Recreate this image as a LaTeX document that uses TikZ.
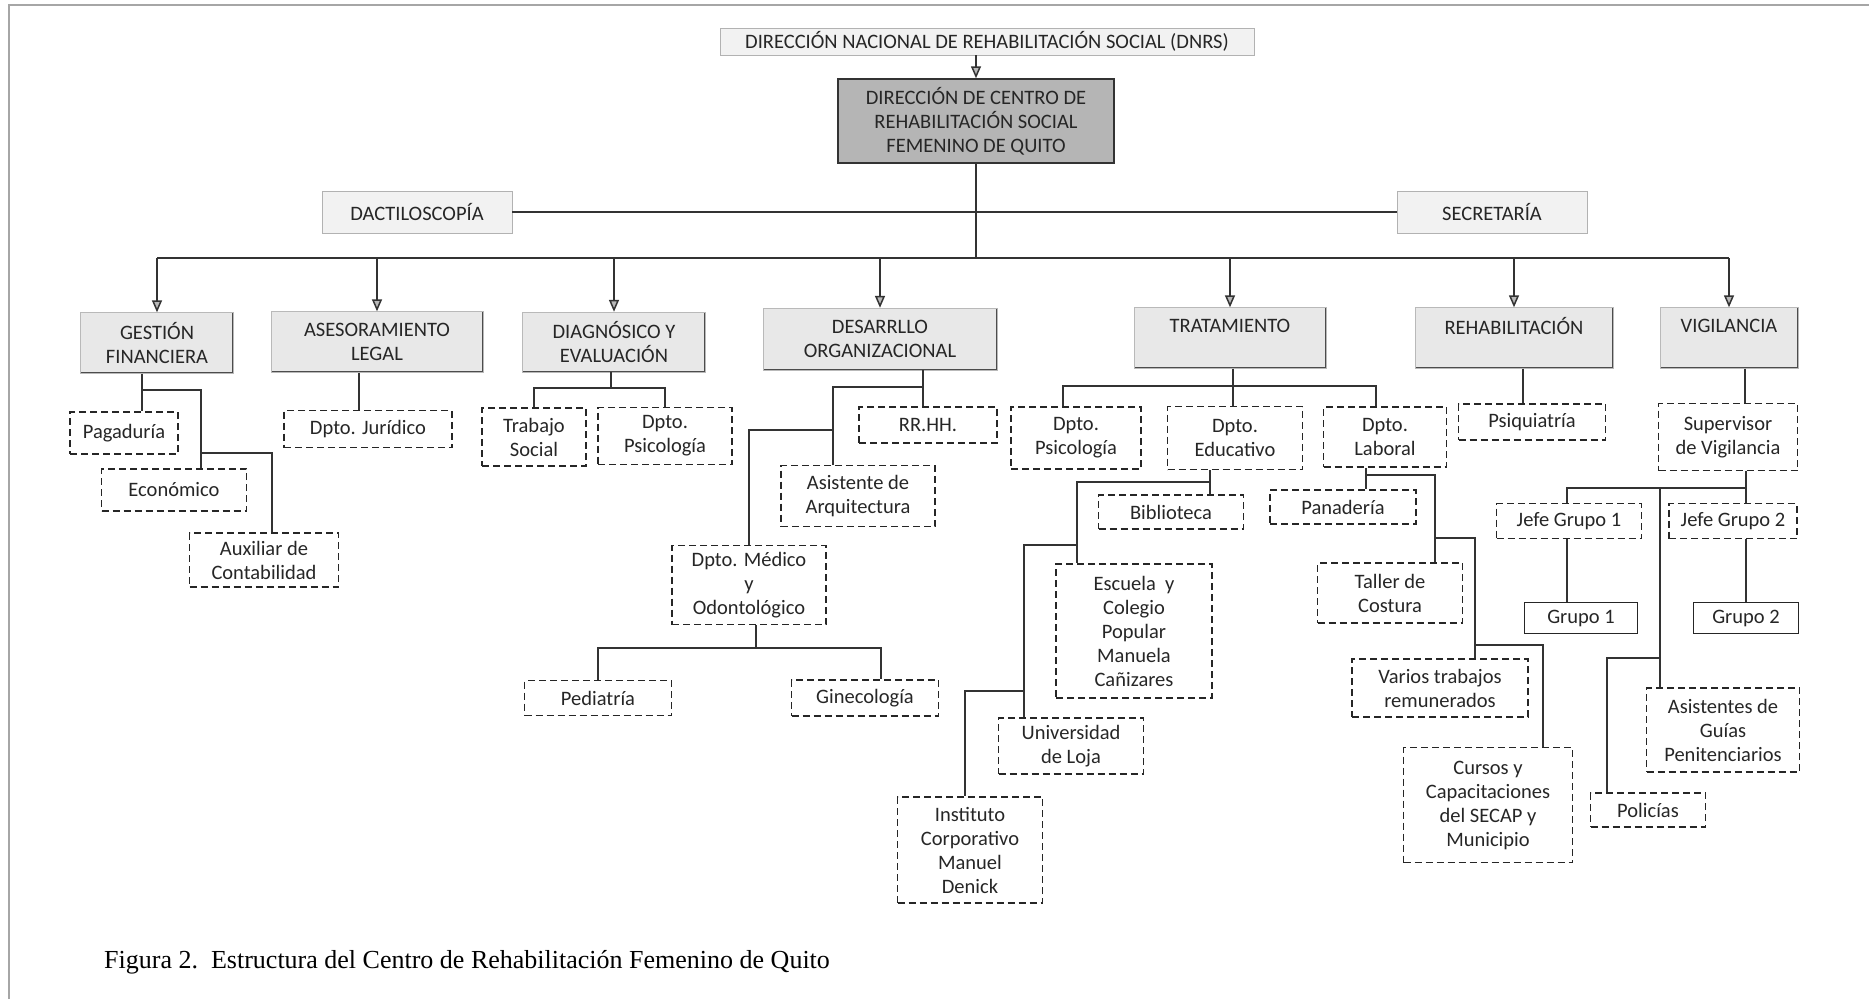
\documentclass[tikz,border=0pt]{standalone}
\usepackage{fontspec}
\setsansfont{Carlito}
\newfontfamily\capfont{Liberation Serif}
\usetikzlibrary{arrows.meta}
\newcommand{\boxfont}{\sffamily\fontsize{20.5}{24}\selectfont}

\begin{document}
\begin{tikzpicture}[x=1pt, y=-1pt,
  topbox/.style={rectangle, draw=gray!60, fill=gray!10, inner sep=1pt, text=black!85, font=\boxfont, align=center},
  dirbox/.style={rectangle, draw=black!80, line width=1.5pt, fill=gray!58, inner sep=1pt, text=black!85, font=\boxfont, align=center},
  unitbox/.style={rectangle, draw=gray!55, fill=gray!18, inner sep=1pt, text=black!85, font=\boxfont, align=center,
    path picture={\draw[black!70, line width=3pt] (path picture bounding box.south west) -- (path picture bounding box.south east) -- (path picture bounding box.north east);}},
  subbox/.style={rectangle, draw=black!85, line width=1.8pt, dash pattern=on 7pt off 4pt, inner sep=1pt, text=black!85, font=\boxfont, align=center},
  grpbox/.style={rectangle, draw=black!85, line width=1.8pt, inner sep=1pt, text=black!85, font=\boxfont, align=center},
  link/.style={draw=black!80, line width=1.5pt},
  arrow/.style={link, -{Triangle[width=10pt, length=12pt, fill=gray!55]}}
]
\useasboundingbox (0,0) rectangle (1869,999);

% ---------- frame ----------
\draw[gray!70, line width=1.5pt] (9,999) -- (9,5) -- (1869,5);

% ---------- direction ----------
\node[topbox, minimum width=534pt, minimum height=27pt] (dnrs) at (987,41.5) {DIRECCIÓN NACIONAL DE REHABILITACIÓN SOCIAL (DNRS)};
\node[dirbox, minimum width=276pt, minimum height=84pt] (dir) at (976,121) {DIRECCIÓN DE CENTRO DE\\REHABILITACIÓN SOCIAL\\FEMENINO DE QUITO};
\node[topbox, minimum width=190pt, minimum height=42pt] (dact) at (417,212) {DACTILOSCOPÍA};
\node[topbox, minimum width=190pt, minimum height=42pt] (secr) at (1492,212) {SECRETARÍA};

% ---------- units ----------
\node[unitbox, minimum width=153pt, minimum height=61pt] (gest) at (157,343) {GESTIÓN\\FINANCIERA};
\node[unitbox, minimum width=212pt, minimum height=61pt] (ases) at (377,342) {ASESORAMIENTO\\LEGAL};
\node[unitbox, minimum width=183pt, minimum height=60pt] (diag) at (614,342) {DIAGNÓSICO Y\\EVALUACIÓN};
\node[unitbox, minimum width=234pt, minimum height=62pt] (desa) at (880,339) {DESARRLLO\\ORGANIZACIONAL};
\node[unitbox, minimum width=192pt, minimum height=61pt] (trat) at (1230,338) {TRATAMIENTO\\\mbox{}};
\node[unitbox, minimum width=198pt, minimum height=61pt] (reha) at (1514,338) {REHABILITACIÓN\\\mbox{}};
\node[unitbox, minimum width=138pt, minimum height=61pt] (vig) at (1729,338) {VIGILANCIA\\\mbox{}};

% ---------- gestion / asesoramiento / diagnostico ----------
\node[subbox, minimum width=108pt, minimum height=42pt] (pag) at (124,433) {Pagaduría};
\node[subbox, minimum width=145pt, minimum height=42pt] (eco) at (174,490) {Económico};
\node[subbox, minimum width=149pt, minimum height=54pt] (aux) at (264,560) {Auxiliar de\\Contabilidad};
\node[subbox, minimum width=168pt, minimum height=37pt] (jur) at (368,429) {Dpto. Jurídico};
\node[subbox, minimum width=104pt, minimum height=58pt] (trab) at (534,437) {Trabajo\\Social};
\node[subbox, minimum width=134pt, minimum height=57pt] (psia) at (665,436) {Dpto.\\Psicología};

% ---------- desarrollo ----------
\node[subbox, minimum width=138pt, minimum height=36pt] (rrhh) at (928,425) {RR.HH.};
\node[subbox, minimum width=154pt, minimum height=61pt] (asis) at (858,496) {Asistente de\\Arquitectura};
\node[subbox, minimum width=154pt, minimum height=79pt] (med) at (749,585) {Dpto. Médico\\y\\Odontológico};
\node[subbox, minimum width=147pt, minimum height=35pt] (ped) at (598,698) {Pediatría};
\node[subbox, minimum width=147pt, minimum height=36pt] (gin) at (865,698) {Ginecología};

% ---------- tratamiento ----------
\node[subbox, minimum width=130pt, minimum height=62pt] (psib) at (1076,438) {Dpto.\\Psicología};
\node[subbox, minimum width=135pt, minimum height=63pt] (edu) at (1235,438) {Dpto.\\Educativo};
\node[subbox, minimum width=123pt, minimum height=60pt] (lab) at (1385,437) {Dpto.\\Laboral};
\node[subbox, minimum width=145pt, minimum height=34pt] (bib) at (1171,512) {Biblioteca};
\node[subbox, minimum width=156pt, minimum height=134pt] (esc) at (1134,631) {Escuela~ y\\Colegio\\Popular\\Manuela\\Cañizares};
\node[subbox, minimum width=145pt, minimum height=56pt] (univ) at (1071,746) {Universidad\\de Loja};
\node[subbox, minimum width=145pt, minimum height=106pt] (inst) at (970,850) {Instituto\\Corporativo\\Manuel\\Denick};
\node[subbox, minimum width=146pt, minimum height=34pt] (pan) at (1343,507) {Panadería};
\node[subbox, minimum width=145pt, minimum height=60pt] (tal) at (1390,593) {Taller de\\Costura};
\node[subbox, minimum width=176pt, minimum height=58pt] (var) at (1440,688) {Varios trabajos\\remunerados};
\node[subbox, minimum width=169pt, minimum height=115pt] (cur) at (1488,805) {Cursos y\\Capacitaciones\\del SECAP y\\Municipio};

% ---------- rehabilitacion / vigilancia ----------
\node[subbox, minimum width=147pt, minimum height=36pt] (psiq) at (1532,422) {Psiquiatría};
\node[subbox, minimum width=139pt, minimum height=67pt] (sup) at (1728,437) {Supervisor\\de Vigilancia};
\node[subbox, minimum width=145pt, minimum height=35pt] (jefa) at (1569,521) {Jefe Grupo 1};
\node[subbox, minimum width=128pt, minimum height=35pt] (jefb) at (1733,521) {Jefe Grupo 2};
\node[grpbox, minimum width=113pt, minimum height=31pt] (grpa) at (1581,618) {Grupo 1};
\node[grpbox, minimum width=105pt, minimum height=31pt] (grpb) at (1746,618) {Grupo 2};
\node[subbox, minimum width=153pt, minimum height=84pt] (asg) at (1723,730) {Asistentes de\\Guías\\Penitenciarios};
\node[subbox, minimum width=115pt, minimum height=34pt] (pol) at (1648,810) {Policías};

% ---------- caption ----------
\node[anchor=base west, inner sep=0pt, font=\capfont\fontsize{26}{30}\selectfont] (cap) at (104,968) {Figura 2.\ \ Estructura del Centro de Rehabilitación Femenino de Quito};

% ---------- top connectors ----------
\coordinate (bus) at (976,258);
\draw[arrow] (dnrs.south -| dir.north) -- (dir.north);
\draw[link] (dir.south) -- (bus);
\draw[link] (dact) -- (secr);
\draw[link] (gest.north |- bus) -- (vig.north |- bus);
\foreach \u in {gest, ases, diag, desa, trat, reha, vig}
  \draw[arrow] (\u.north |- bus) -- (\u.north);

% gestion
\coordinate (f1) at (142,390);
\coordinate (f2) at (201,453);
\coordinate (f3) at (272,453);
\draw[link] (gest.south -| f1) -- (pag.north -| f1);
\draw[link] (f1) -| (eco.north -| f2);
\draw[link] (f2) -- (f3) -- (aux.north -| f3);

% asesoramiento, diagnostico
\coordinate (a1) at (359,0);
\draw[link] (ases.south -| a1) -- (jur.north -| a1);
\coordinate (d1) at (611,388);
\draw[link] (diag.south -| d1) -- (d1);
\draw[link] (trab.north) |- (d1) -| (psia.north);

% desarrollo
\coordinate (o1) at (923,387);
\coordinate (o2) at (833,430);
\draw[link] (desa.south -| o1) -- (rrhh.north -| o1);
\draw[link] (o1) -| (asis.north -| o2);
\draw[link] (o2) -| (med.north);
\coordinate (m1) at (756,648);
\coordinate (m2) at (881,648);
\draw[link] (med.south -| m1) -- (m1);
\draw[link] (ped.north) |- (m2) -- (gin.north -| m2);

% tratamiento
\coordinate (t1) at (1233,386);
\coordinate (t2) at (1063,386);
\coordinate (t3) at (1376,386);
\draw[link] (trat.south -| t1) -- (edu.north -| t1);
\draw[link] (psib.north -| t2) -- (t2) -- (t3) -- (lab.north -| t3);

% educativo
\coordinate (e1) at (1210,482);
\coordinate (e2) at (1077,482);
\coordinate (e3) at (1077,545);
\coordinate (e4) at (1024,545);
\coordinate (e5) at (1024,691);
\coordinate (e6) at (965,691);
\draw[link] (edu.south -| e1) -- (bib.north -| e1);
\draw[link] (e1) -- (e2) -- (esc.north -| e2);
\draw[link] (e3) -- (e4) -- (univ.north -| e4);
\draw[link] (e5) -- (e6) -- (inst.north -| e6);

% laboral
\coordinate (l1) at (1366,475);
\coordinate (l2) at (1435,475);
\coordinate (l3) at (1435,538);
\coordinate (l4) at (1475,538);
\coordinate (l5) at (1475,645);
\coordinate (l6) at (1543,645);
\draw[link] (lab.south -| l1) -- (pan.north -| l1);
\draw[link] (l1) -- (l2) -- (tal.north -| l2);
\draw[link] (l3) -- (l4) -- (var.north -| l4);
\draw[link] (l5) -- (l6) -- (cur.north -| l6);

% rehabilitacion, vigilancia
\coordinate (r1) at (1523,0);
\draw[link] (reha.south -| r1) -- (psiq.north -| r1);
\coordinate (v1) at (1745,0);
\draw[link] (vig.south -| v1) -- (sup.north -| v1);
\coordinate (s1) at (1746,488);
\coordinate (s2) at (1567,488);
\coordinate (s3) at (1660,488);
\coordinate (s4) at (1660,658);
\coordinate (s5) at (1607,658);
\draw[link] (sup.south -| s1) -- (jefb.north -| s1);
\draw[link] (s1) -- (s2) -- (jefa.north -| s2);
\draw[link] (s3) -- (asg.north -| s3);
\draw[link] (s4) -- (s5) -- (pol.north -| s5);
\draw[link] (jefa.south -| s2) -- (grpa.north -| s2);
\draw[link] (jefb.south -| s1) -- (grpb.north -| s1);

\end{tikzpicture}
\end{document}
